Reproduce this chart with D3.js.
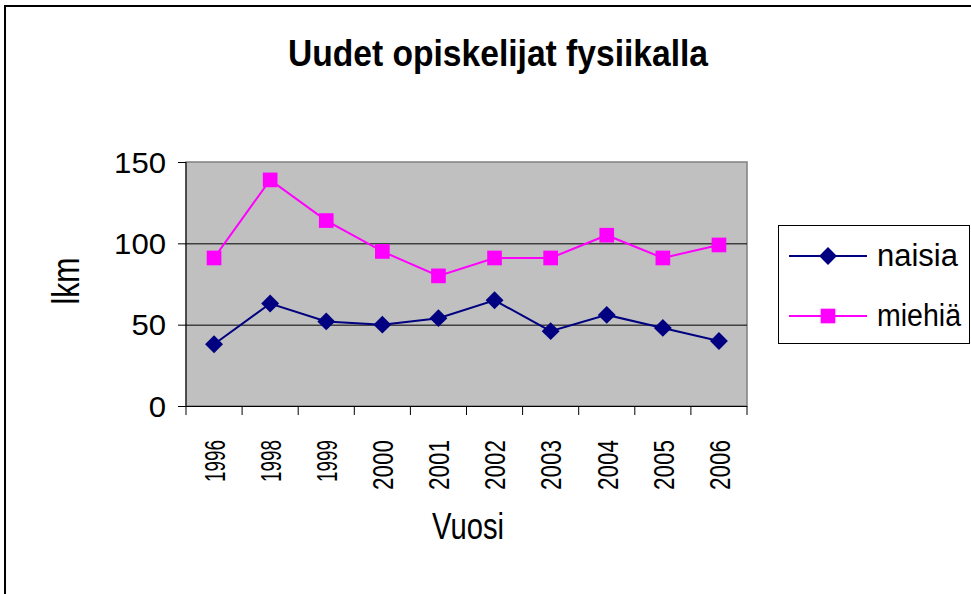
<!DOCTYPE html>
<html>
<head>
<meta charset="utf-8">
<script src="https://cdn.jsdelivr.net/npm/d3@7"></script>
<style>
  body { margin: 0; background: #fff; }
  svg { display: block; font-family: "Liberation Sans", Arial, sans-serif; }
</style>
</head>
<body>
<div id="chart"></div>
<script>
// data
let years = ["1996", "1998", "1999", "2000", "2001", "2002", "2003", "2004", "2005", "2006"];
let naisia = [38, 63, 52, 50, 54, 65, 46, 56, 48, 40];
let miehia = [91, 139, 114, 95, 80, 91, 91, 105, 91, 99];
let yTicks = [0, 50, 100, 150];

const width = 971, height = 594;
const plot = { left: 186, right: 747, top: 162, bottom: 406 };

let svg = d3.select("#chart").append("svg")
    .attr("width", width)
    .attr("height", height);

// outer frame (only left and top visible)
svg.append("path")
    .attr("d", `M5,${height} L5,6 L${width},6`)
    .attr("fill", "none")
    .attr("stroke", "#000")
    .attr("stroke-width", 2);

let x = d3.scaleBand().domain(years).range([plot.left, plot.right]);
let y = d3.scaleLinear().domain([0, 150]).range([plot.bottom, plot.top]);

// plot background
svg.append("rect")
    .attr("x", plot.left).attr("y", plot.top)
    .attr("width", plot.right - plot.left).attr("height", plot.bottom - plot.top)
    .attr("fill", "#c0c0c0")
    .attr("stroke", "#808080")
    .attr("stroke-width", 1.5);

// gridlines
svg.append("g").selectAll("line")
    .data(yTicks.filter(d => d > 0 && d < 150))
    .join("line")
    .attr("x1", plot.left).attr("x2", plot.right)
    .attr("y1", d => y(d) + 0.5).attr("y2", d => y(d) + 0.5)
    .attr("stroke", "#000").attr("stroke-width", 1);

// y axis
let yAxis = svg.append("g");
yAxis.append("line")
    .attr("x1", plot.left).attr("x2", plot.left)
    .attr("y1", plot.top).attr("y2", plot.bottom)
    .attr("stroke", "#000");
yAxis.selectAll(".tick")
    .data(yTicks)
    .join("line")
    .attr("x1", plot.left - 8).attr("x2", plot.left)
    .attr("y1", d => y(d) + 0.5).attr("y2", d => y(d) + 0.5)
    .attr("stroke", "#000");
yAxis.selectAll("text")
    .data(yTicks)
    .join("text")
    .attr("x", 166)
    .attr("y", d => y(d))
    .attr("dy", "0.36em")
    .attr("text-anchor", "end")
    .attr("font-size", 30)
    .attr("textLength", d => String(d).length * 17.3)
    .attr("lengthAdjust", "spacingAndGlyphs")
    .text(d => d);

// x axis
let xAxis = svg.append("g");
xAxis.append("line")
    .attr("x1", plot.left).attr("x2", plot.right)
    .attr("y1", plot.bottom + 0.5).attr("y2", plot.bottom + 0.5)
    .attr("stroke", "#000");
xAxis.selectAll(".tick")
    .data(years.concat(["end"]))
    .join("line")
    .attr("x1", d => d === "end" ? plot.right : x(d))
    .attr("x2", d => d === "end" ? plot.right : x(d))
    .attr("y1", plot.bottom).attr("y2", plot.bottom + 9)
    .attr("stroke", "#000");
xAxis.selectAll("text")
    .data(years)
    .join("text")
    .attr("transform", d => `translate(${x(d) + x.bandwidth() / 2},440) rotate(-90)`)
    .attr("text-anchor", "end")
    .attr("dy", "0.36em")
    .attr("font-size", 30)
    .attr("textLength", d => d.startsWith("19") ? 42 : 50)
    .attr("lengthAdjust", "spacingAndGlyphs")
    .text(d => d);

// lines and markers
let diamond = d3.symbol().type(d3.symbolSquare).size(160);
let square = d3.symbol().type(d3.symbolSquare).size(215);
let series = [
    { name: "naisia", values: naisia, color: "#000080", marker: diamond, rot: 45 },
    { name: "miehiä", values: miehia, color: "#ff00ff", marker: square, rot: 0 }
];
let line = d3.line()
    .x((d, i) => x(years[i]) + x.bandwidth() / 2)
    .y(d => y(d));

series.forEach(s => {
    svg.append("path")
        .datum(s.values)
        .attr("d", line)
        .attr("fill", "none")
        .attr("stroke", s.color)
        .attr("stroke-width", 2);
    svg.append("g").selectAll("path")
        .data(s.values)
        .join("path")
        .attr("transform", (d, i) => `translate(${x(years[i]) + x.bandwidth() / 2},${y(d)}) rotate(${s.rot})`)
        .attr("d", s.marker)
        .attr("fill", s.color);
});

// title and axis labels
svg.append("text")
    .attr("x", 498).attr("y", 66)
    .attr("text-anchor", "middle")
    .attr("font-size", 37)
    .attr("font-weight", "bold")
    .attr("textLength", 420)
    .attr("lengthAdjust", "spacingAndGlyphs")
    .text("Uudet opiskelijat fysiikalla");

svg.append("text")
    .attr("transform", "translate(65,281) rotate(-90)")
    .attr("text-anchor", "middle")
    .attr("dy", "0.36em")
    .attr("font-size", 38)
    .attr("textLength", 47)
    .attr("lengthAdjust", "spacingAndGlyphs")
    .text("lkm");

svg.append("text")
    .attr("x", 468).attr("y", 539)
    .attr("text-anchor", "middle")
    .attr("font-size", 36)
    .attr("textLength", 72)
    .attr("lengthAdjust", "spacingAndGlyphs")
    .text("Vuosi");

// legend
let legend = svg.append("g");
legend.append("rect")
    .attr("x", 778.5).attr("y", 225.5)
    .attr("width", 191).attr("height", 118)
    .attr("fill", "#fff")
    .attr("stroke", "#000");
let ly = [256, 316];
series.forEach((s, i) => {
    legend.append("line")
        .attr("x1", 789).attr("x2", 867)
        .attr("y1", ly[i]).attr("y2", ly[i])
        .attr("stroke", s.color).attr("stroke-width", 2);
    legend.append("path")
        .attr("transform", `translate(828,${ly[i]}) rotate(${s.rot})`)
        .attr("d", s.marker)
        .attr("fill", s.color);
    legend.append("text")
        .attr("x", 877).attr("y", ly[i] + 10)
        .attr("font-size", 31)
        .attr("textLength", i === 0 ? 81 : 84)
        .attr("lengthAdjust", "spacingAndGlyphs")
        .text(s.name);
});
</script>
</body>
</html>
